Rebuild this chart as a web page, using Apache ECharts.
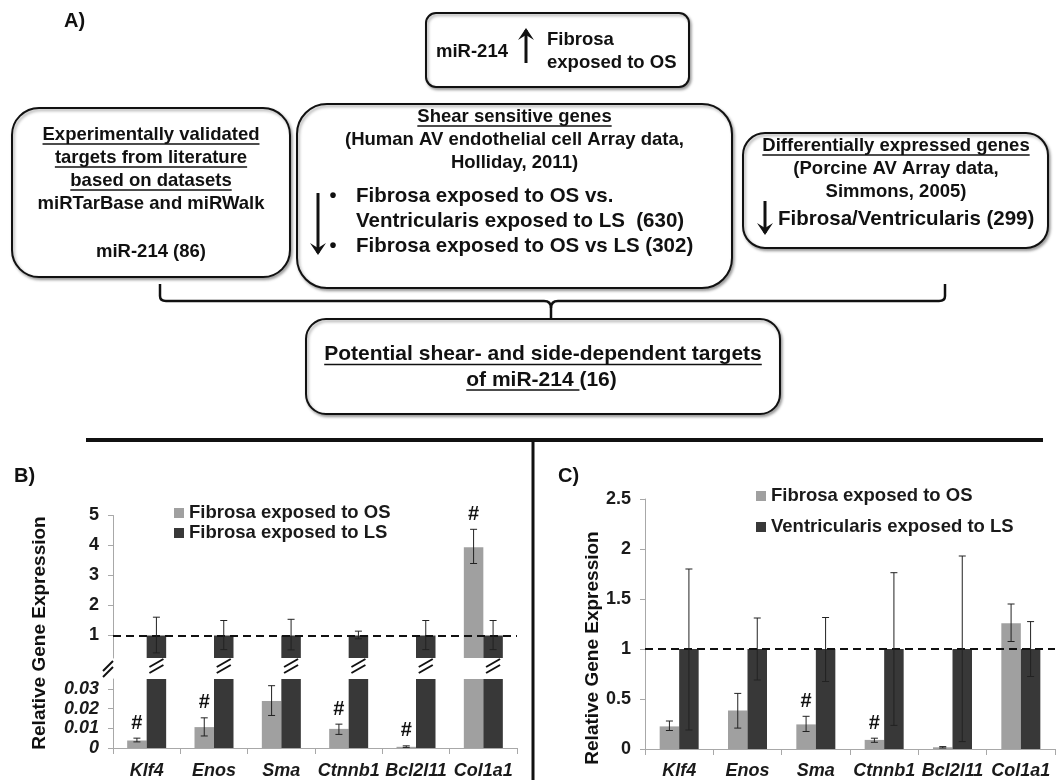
<!DOCTYPE html>
<html><head><meta charset="utf-8">
<script src="https://cdn.jsdelivr.net/npm/echarts@6/dist/echarts.min.js"></script>
<style>html,body{margin:0;padding:0;background:#fff}#c{width:1060px;height:780px}</style>
</head><body><div id="c"></div>
<script>
// ---------- data ----------
const genes = ['Klf4', 'Enos', 'Sma', 'Ctnnb1', 'Bcl2l11', 'Col1a1'];
// Panel B : Fibrosa OS vs Fibrosa LS
const bOS    = [0.0038, 0.0106, 0.0239, 0.0097, 0.0006, 3.94];
const bOSLo  = [0.0031, 0.0061, 0.0165, 0.0069, 0.0003, 3.40];
const bOSHi  = [0.0050, 0.0153, 0.0316, 0.0121, 0.0011, 4.54];
const bOSSig = [1, 1, 0, 1, 1, 1];
const bLS    = [1, 1, 1, 1, 1, 1];
const bLSLo  = [0.42, 0.53, 0.52, 0.89, 0.53, 0.53];
const bLSHi  = [1.61, 1.50, 1.54, 1.145, 1.50, 1.50];
// Panel C : Fibrosa OS vs Ventricularis LS
const cOS    = [0.226, 0.385, 0.246, 0.091, 0.017, 1.258];
const cOSLo  = [0.185, 0.209, 0.175, 0.067, 0.010, 1.075];
const cOSHi  = [0.280, 0.556, 0.327, 0.108, 0.024, 1.450];
const cOSSig = [0, 0, 1, 1, 0, 0];
const cVL    = [1, 1, 1, 1, 1, 1];
const cVLLo  = [0.19, 0.69, 0.675, 0.236, 0.074, 0.725];
const cVLHi  = [1.80, 1.31, 1.315, 1.763, 1.93, 1.274];
// tick labels
const bUpperTicks = [1, 2, 3, 4, 5];
const bLowerTicks = [0, 0.01, 0.02, 0.03];
const cTicks = [0, 0.5, 1, 1.5, 2, 2.5];
const nameOS = 'Fibrosa exposed to OS';
const nameLS = 'Fibrosa exposed to LS';
const nameVL = 'Ventricularis exposed to LS';

// ---------- style ----------
const FF = '"Liberation Sans", Arial, sans-serif';
const LIGHT = '#a0a0a0', DARK = '#383838', INK = '#111';
const BW = 19.5;
const fnt = (sz, w) => (w || 'bold') + ' ' + sz + 'px ' + FF;
const ctx = document.createElement('canvas').getContext('2d');
function tw(s, f) { ctx.font = f; return ctx.measureText(s).width; }

const G = [];
function T(str, x, y, sz, opt) {
  opt = opt || {};
  const f = fnt(sz, opt.weight);
  const align = opt.align || 'center';
  G.push({ type: 'text', x: x, y: y, z: 10, rotation: opt.rot || 0,
    style: { text: str, font: f, fill: INK, align: align, verticalAlign: 'middle' } });
  if (opt.ul) {
    const w = tw(opt.ulText || str, f);
    const x0 = align === 'center' ? x - tw(str, f) / 2 : x;
    G.push({ type: 'line', z: 10, shape: { x1: x0, y1: y + opt.ul, x2: x0 + w, y2: y + opt.ul },
      style: { stroke: INK, lineWidth: 1.6 } });
  }
}
function box(x, y, w, h, r) {
  G.push({ type: 'rect', z: 5, shape: { x: x, y: y, width: w, height: h, r: r },
    style: { fill: '#fff', stroke: INK, lineWidth: 2,
      shadowColor: 'rgba(0,0,0,0.35)', shadowBlur: 3, shadowOffsetX: 1.5, shadowOffsetY: 2 } });
}
function arrow(x, y1, y2) {
  const d = y2 > y1 ? 1 : -1;
  G.push({ type: 'line', z: 10, shape: { x1: x, y1: y1, x2: x, y2: y2 - d * 2 },
    style: { stroke: INK, lineWidth: 3 } });
  G.push({ type: 'polygon', z: 10, shape: { points: [[x - 8, y2 - d * 12], [x, y2], [x + 8, y2 - d * 12], [x, y2 - d * 7]] },
    style: { fill: INK } });
}
function seg(x1, y1, x2, y2) {
  G.push({ type: 'line', z: 5, shape: { x1: x1, y1: y1, x2: x2, y2: y2 }, style: { stroke: INK, lineWidth: 2.5 } });
}
function curve(x1, y1, cx, cy, x2, y2) {
  G.push({ type: 'bezierCurve', z: 5, shape: { x1: x1, y1: y1, cpx1: cx, cpy1: cy, x2: x2, y2: y2 },
    style: { fill: 'none', stroke: INK, lineWidth: 2.5 } });
}

// panel labels
T('A)', 64, 21, 20, { align: 'left' });
T('B)', 14, 476, 20, { align: 'left' });
T('C)', 558, 476, 20, { align: 'left' });

// top box
box(426, 13, 263, 74, 10);
T('miR-214', 436, 52, 18.5, { align: 'left' });
arrow(526, 63, 28);
T('Fibrosa', 547, 40, 18.5, { align: 'left' });
T('exposed to OS', 547, 63, 18.5, { align: 'left' });

// left box
box(12, 108, 278, 169, 27);
T('Experimentally validated', 151, 135, 18.5, { ul: 9 });
T('targets from literature', 151, 158, 18.5, { ul: 9 });
T('based on datasets', 151, 181, 18.5, { ul: 9 });
T('miRTarBase and miRWalk', 151, 204, 18.5);
T('miR-214 (86)', 151, 252, 18.5);

// middle box
box(297, 104, 435, 184, 30);
T('Shear sensitive genes', 514.5, 117, 18.5, { ul: 9 });
T('(Human AV endothelial cell Array data,', 514.5, 140, 18.5);
T('Holliday, 2011)', 514.5, 163, 18.5);
T('\u2022', 333, 196, 20, { align: 'center' });
T('\u2022', 333, 246, 20, { align: 'center' });
T('Fibrosa exposed to OS vs.', 356, 196, 20.5, { align: 'left' });
T('Ventricularis exposed to LS  (630)', 356, 221, 20.5, { align: 'left' });
T('Fibrosa exposed to OS vs LS (302)', 356, 246, 20.5, { align: 'left' });
arrow(318, 193, 255);

// right box
box(743, 133, 305, 115, 22);
T('Differentially expressed genes', 896, 146, 18.5, { ul: 9 });
T('(Porcine AV Array data,', 896, 169, 18.5);
T('Simmons, 2005)', 896, 191.5, 18.5);
arrow(765, 201, 235);
T('Fibrosa/Ventricularis (299)', 778, 219, 20.5, { align: 'left' });

// brace
seg(160, 284, 160, 296);
curve(160, 296, 160, 301, 166, 301);
seg(166, 301, 544, 301);
curve(544, 301, 551, 301, 551, 308);
curve(558, 301, 551, 301, 551, 308);
seg(551, 308, 551, 319);
seg(558, 301, 939, 301);
curve(939, 301, 945, 301, 945, 296);
seg(945, 296, 945, 284);

// bottom box
box(306, 319, 474, 95, 20);
T('Potential shear- and side-dependent targets', 543, 354.5, 21, { ul: 10 });
(function () {
  const f = fnt(21), s = 'of miR-214 (16)';
  const x0 = 541.5 - tw(s, f) / 2;
  T(s, x0, 380, 21, { align: 'left', ul: 10, ulText: 'of miR-214 ' });
})();

// separators
G.push({ type: 'line', z: 5, shape: { x1: 86, y1: 440, x2: 1043, y2: 440 }, style: { stroke: INK, lineWidth: 4 } });
G.push({ type: 'line', z: 5, shape: { x1: 533, y1: 440, x2: 533, y2: 780 }, style: { stroke: INK, lineWidth: 3 } });

// y axis names
T('Relative Gene Expression', 40, 633, 19, { rot: Math.PI / 2 });
T('Relative Gene Expression', 592.5, 648, 19, { rot: Math.PI / 2 });

// ---------- chart helpers ----------
const AX = '#a8a8a8';
function xCat(gi, show, margin) {
  return { type: 'category', gridIndex: gi, data: genes,
    axisLine: { show: show, lineStyle: { color: AX, width: 1 } },
    axisTick: { show: show, length: 6, lineStyle: { color: AX } },
    axisLabel: { show: show, interval: 0, margin: margin, hideOverlap: false, color: '#1a1a1a',
      fontFamily: FF, fontWeight: 'bold', fontStyle: 'italic', fontSize: 18 },
    splitLine: { show: false } };
}
function yVal(gi, min, max, ticks, italic, fmt) {
  return { type: 'value', gridIndex: gi, min: min, max: max,
    axisLine: { show: true, lineStyle: { color: AX, width: 1 } },
    axisTick: { show: true, length: 5, customValues: ticks, lineStyle: { color: AX } },
    axisLabel: { customValues: ticks, margin: 14, color: '#1a1a1a', fontFamily: FF, fontWeight: 'bold',
      fontStyle: italic ? 'italic' : 'normal', fontSize: 18, formatter: fmt },
    splitLine: { show: false } };
}
function bar(name, xi, yi, data, color, extra) {
  return Object.assign({ type: 'bar', name: name, xAxisIndex: xi, yAxisIndex: yi, data: data,
    barWidth: BW, barGap: '0%', clip: true, silent: true, itemStyle: { color: color } }, extra || {});
}
function errSeries(xi, yi, vals, lo, hi, sig, dx, vmin, vmax) {
  return { type: 'custom', xAxisIndex: xi, yAxisIndex: yi, silent: true, clip: false, z: 5,
    data: vals.map((v, i) => [i, v, lo[i], hi[i], sig ? sig[i] : 0]),
    renderItem: function (params, api) {
      const i = api.value(0), v = api.value(1);
      if (v < vmin || v > vmax) return null;
      const pt = api.coord([i, api.value(3)]), pb = api.coord([i, api.value(2)]);
      const x = pt[0] + dx, c = 3.5;
      const ch = [
        { type: 'line', shape: { x1: x, y1: pt[1], x2: x, y2: pb[1] }, style: { stroke: '#222', lineWidth: 1 } },
        { type: 'line', shape: { x1: x - c, y1: pt[1], x2: x + c, y2: pt[1] }, style: { stroke: '#222', lineWidth: 1 } },
        { type: 'line', shape: { x1: x - c, y1: pb[1], x2: x + c, y2: pb[1] }, style: { stroke: '#222', lineWidth: 1 } }
      ];
      if (api.value(4)) ch.push({ type: 'text', x: x, y: pt[1] - 15,
        style: { text: '#', font: fnt(20), fill: INK, align: 'center', verticalAlign: 'middle' } });
      return { type: 'group', children: ch };
    } };
}
function breakSeries(xi, yi, vals, dx) {
  return { type: 'custom', xAxisIndex: xi, yAxisIndex: yi, silent: true, clip: false, z: 6,
    data: vals.map((v, i) => [i, v]),
    renderItem: function (params, api) {
      const i = api.value(0);
      const cs = params.coordSys;
      const y = cs.y - 13;
      const mk = (cx, cy, w, h) => [
        { type: 'line', shape: { x1: cx - w, y1: cy - 3 + h, x2: cx + w, y2: cy - 3 - h }, style: { stroke: INK, lineWidth: 2 } },
        { type: 'line', shape: { x1: cx - w, y1: cy + 3 + h, x2: cx + w, y2: cy + 3 - h }, style: { stroke: INK, lineWidth: 2 } }
      ];
      let ch = mk(api.coord([i, 0])[0] + dx, y, 7, 4);
      if (i === 0) ch = ch.concat(mk(cs.x - 5, y + 3, 5, 5));
      return { type: 'group', children: ch };
    } };
}
const dashed = { silent: true, symbol: 'none', label: { show: false },
  lineStyle: { type: [8, 5], color: INK, width: 2 }, data: [{ yAxis: 1 }] };
function leg(name, left, top) {
  return { data: [name], left: left, top: top, padding: 0, itemWidth: 10, itemHeight: 10, icon: 'rect',
    selectedMode: false, textStyle: { fontFamily: FF, fontWeight: 'bold', fontSize: 18.5, color: '#1a1a1a', lineHeight: 20 } };
}

const chart = echarts.init(document.getElementById('c'), null, { renderer: 'canvas' });
chart.setOption({
  backgroundColor: '#fff',
  animation: false,
  graphic: G,
  legend: [leg(nameOS, 174, 503), leg(nameLS, 174, 523), leg(nameOS, 756, 486), leg(nameVL, 756, 517)],
  grid: [
    { left: 113, top: 515.5, width: 404, height: 142.5 },
    { left: 113, top: 679, width: 404, height: 74 },
    { left: 645, top: 499, width: 410, height: 251 }
  ],
  xAxis: [xCat(0, false, 14), xCat(1, true, 14), xCat(2, true, 13)],
  yAxis: [
    yVal(0, 0.25, 5, bUpperTicks, false),
    yVal(1, 0, 0.035, bLowerTicks, true, v => (v === 0 ? '0' : v.toFixed(2))),
    yVal(2, 0, 2.5, cTicks, false, v => String(v))
  ],
  series: [
    bar(nameOS, 0, 0, bOS, LIGHT),
    bar(nameLS, 0, 0, bLS, DARK, { markLine: dashed }),
    bar(nameOS, 1, 1, bOS, LIGHT),
    bar(nameLS, 1, 1, bLS, DARK),
    bar(nameOS, 2, 2, cOS, LIGHT),
    bar(nameVL, 2, 2, cVL, DARK, { markLine: dashed }),
    errSeries(0, 0, bOS, bOSLo, bOSHi, bOSSig, -BW / 2, 0.25, 5),
    errSeries(0, 0, bLS, bLSLo, bLSHi, null, BW / 2, 0.25, 5),
    errSeries(1, 1, bOS, bOSLo, bOSHi, bOSSig, -BW / 2, 0, 0.035),
    errSeries(2, 2, cOS, cOSLo, cOSHi, cOSSig, -BW / 2, 0, 2.5),
    errSeries(2, 2, cVL, cVLLo, cVLHi, null, BW / 2, 0, 2.5),
    breakSeries(1, 1, bLS, BW / 2)
  ]
});
</script></body></html>
